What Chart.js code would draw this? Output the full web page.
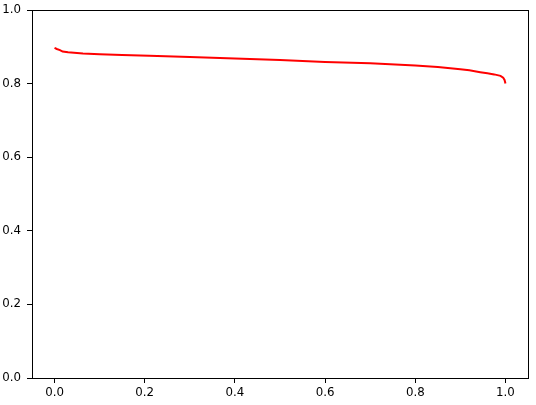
<!DOCTYPE html>
<html>
<head>
<meta charset="utf-8">
<script src="https://cdn.jsdelivr.net/npm/chart.js@4"></script>
<style>
  body { margin: 0; background: #fff; }
  canvas { display: block; }
</style>
</head>
<body>
<canvas id="myChart" width="536" height="405"></canvas>
<script>
const recall = [0, 0.005, 0.012, 0.018, 0.03, 0.063, 0.1, 0.15, 0.21, 0.3, 0.4, 0.5, 0.6, 0.7, 0.8, 0.85, 0.9, 0.92, 0.944, 0.96, 0.975, 0.989, 0.995, 0.998, 1.0];
const precision = [0.897, 0.894, 0.891, 0.887, 0.885, 0.882, 0.880, 0.878, 0.876, 0.872, 0.868, 0.864, 0.859, 0.855, 0.849, 0.845, 0.839, 0.836, 0.831, 0.828, 0.825, 0.821, 0.816, 0.810, 0.800];
const xTicks = [0, 0.2, 0.4, 0.6, 0.8, 1.0];
const yTicks = [0, 0.2, 0.4, 0.6, 0.8, 1.0];

const points = recall.map(function(r, i){ return {x: r, y: precision[i]}; });

const frame = {
    id: 'frame',
    beforeDraw(chart){
        const c = chart.ctx;
        c.save();
        c.fillStyle = '#fff';
        c.fillRect(0, 0, chart.width, chart.height);
        c.restore();
    },
    afterDraw(chart){
        const a = chart.chartArea;
        const c = chart.ctx;
        c.save();
        c.strokeStyle = '#000';
        c.lineWidth = 1;
        c.strokeRect(Math.round(a.left) + 0.5, Math.round(a.top) + 0.5, Math.round(a.right - a.left), Math.round(a.bottom - a.top));
        c.restore();
    }
};

function tickFont(){ return {family: 'DejaVu Sans', size: 11.8}; }

const config = {
    type: 'scatter',
    data: {
        datasets: [{
            data: points,
            showLine: true,
            borderColor: '#ff0000',
            borderWidth: 2,
            pointRadius: 0,
            tension: 0,
            fill: false
        }]
    },
    options: {
        responsive: false,
        animation: false,
        layout: { padding: { left: 0, right: 8, top: 10, bottom: 0 } },
        plugins: { legend: { display: false }, tooltip: { enabled: false } },
        scales: {
            x: {
                type: 'linear',
                min: -0.05,
                max: 1.05,
                afterBuildTicks: function(s){ s.ticks = xTicks.map(function(v){ return {value: v}; }); },
                afterFit: function(s){ s.height = 27; s.paddingLeft = 0; s.paddingRight = 0; },
                grid: { drawOnChartArea: false, color: '#000', tickLength: 5, tickWidth: 1 },
                border: { display: false },
                ticks: { color: '#000', font: tickFont(), padding: 3, maxRotation: 0,
                    callback: function(v){ return v.toFixed(1); } }
            },
            y: {
                type: 'linear',
                min: 0,
                max: 1,
                afterBuildTicks: function(s){ s.ticks = yTicks.map(function(v){ return {value: v}; }); },
                afterFit: function(s){ s.width = 32; s.paddingTop = 0; s.paddingBottom = 0; },
                grid: { drawOnChartArea: false, color: '#000', tickLength: 5, tickWidth: 1 },
                border: { display: false },
                ticks: { color: '#000', font: tickFont(), padding: 6,
                    callback: function(v){ return v.toFixed(1); } }
            }
        }
    },
    plugins: [frame]
};

const ctx = document.getElementById('myChart').getContext('2d');
const myChart = new Chart(ctx, config);
</script>
</body>
</html>
